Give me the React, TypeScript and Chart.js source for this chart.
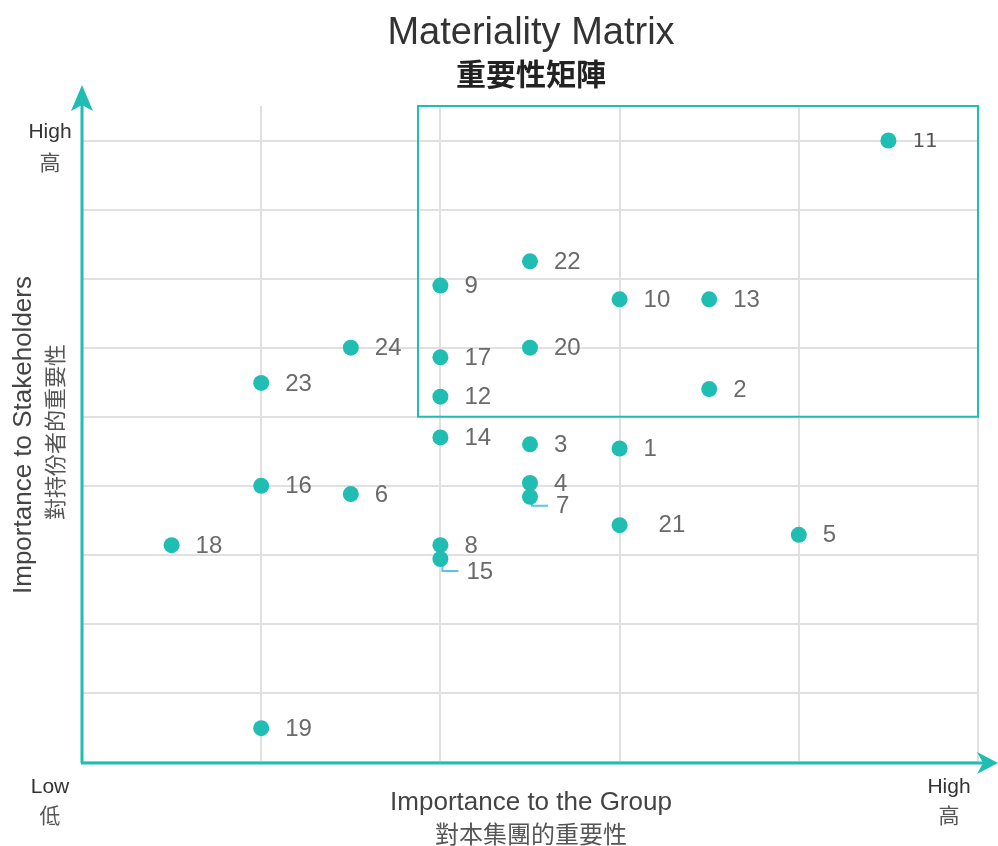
import React, { useEffect, useRef } from "react";
import { Chart, registerables } from "chart.js";

Chart.register(...registerables);

// Topic numbers and their positions (x: importance to the Group, y: importance to stakeholders)
const topicIds = [1, 2, 3, 4, 5, 6, 7, 8, 9, 10, 11, 12, 13, 14, 15, 16, 17, 18, 19, 20, 21, 22, 23, 24];
const groupImportance = [3, 3.5, 2.5, 2.5, 4, 1.5, 2.5, 2, 2, 3, 4.5, 2, 3.5, 2, 2, 1, 2, 0.5, 1, 2.5, 3, 2.5, 1, 1.5];
const stakeholderImportance = [4.54, 5.4, 4.6, 4.04, 3.29, 3.88, 3.84, 3.14, 6.9, 6.7, 9, 5.29, 6.7, 4.7, 2.94, 4.0, 5.86, 3.14, 0.49, 6.0, 3.43, 7.25, 5.49, 6.0];

// Highlighted (material) region
const boxX = [1.875, 5];
const boxY = [5, 9.5];

const xRange = [0, 5];
const yRange = [0, 9.5];

const titleText = "Materiality Matrix";
const subtitleText = "重要性矩陣";
const xTitle = "Importance to the Group";
const xTitleZh = "對本集團的重要性";
const yTitle = "Importance to Stakeholders";
const yTitleZh = "對持份者的重要性";
const highLabel = "High";
const highLabelZh = "高";
const lowLabel = "Low";
const lowLabelZh = "低";

const TEAL = "#20bdb3";
const SANS = "'Liberation Sans', Arial, sans-serif";

// label placement tweaks (style only)
const labelShift: Record<number, [number, number]> = {
  7: [26, 10],
  15: [26, 13],
  21: [39, 0],
  4: [24, 1],
};
const leaderIds = [7, 15];

export default function App() {
  const ref = useRef<HTMLCanvasElement | null>(null);

  useEffect(() => {
    if (!ref.current) return;
    const data = topicIds.map((id, i) => ({ x: groupImportance[i], y: stakeholderImportance[i], id }));

    const decor = {
      id: "decor",
      beforeDatasetsDraw(chart: any) {
        const { ctx, scales } = chart;
        const xs = scales.x, ys = scales.y;
        ctx.save();
        ctx.strokeStyle = TEAL;
        ctx.lineWidth = 2;
        const x0 = xs.getPixelForValue(boxX[0]);
        const x1 = xs.getPixelForValue(boxX[1]);
        const y0 = ys.getPixelForValue(boxY[1]);
        const y1 = ys.getPixelForValue(boxY[0]);
        ctx.strokeRect(x0, y0, x1 - x0, y1 - y0);

        // leader lines
        ctx.strokeStyle = "#5cc3ee";
        ctx.lineWidth = 2;
        chart.getDatasetMeta(0).data.forEach((pt: any, i: number) => {
          const id = topicIds[i];
          if (!leaderIds.includes(id)) return;
          const sh = labelShift[id];
          ctx.beginPath();
          ctx.moveTo(pt.x + 2, pt.y);
          ctx.lineTo(pt.x + 2, pt.y + sh[1] - 1);
          ctx.lineTo(pt.x + sh[0] - 8, pt.y + sh[1] - 1);
          ctx.stroke();
        });
        ctx.restore();
      },
      afterDatasetsDraw(chart: any) {
        const { ctx } = chart;
        ctx.save();
        ctx.textBaseline = "middle";
        ctx.textAlign = "left";
        chart.getDatasetMeta(0).data.forEach((pt: any, i: number) => {
          const id = topicIds[i];
          const sh = labelShift[id] || [24, 1];
          if (id === 11) {
            ctx.font = "20px 'DejaVu Sans', sans-serif";
            ctx.fillStyle = "#555";
          } else {
            ctx.font = `24px ${SANS}`;
            ctx.fillStyle = "#6a6a6a";
          }
          ctx.fillText(String(id), pt.x + sh[0], pt.y + sh[1]);
        });
        ctx.restore();
      },
      afterDraw(chart: any) {
        const { ctx, chartArea } = chart;
        const L = chartArea.left, B = chartArea.bottom;
        ctx.save();
        // axes
        ctx.strokeStyle = TEAL;
        ctx.fillStyle = TEAL;
        ctx.lineWidth = 3;
        ctx.beginPath();
        ctx.moveTo(L, B + 1);
        ctx.lineTo(L, 100);
        ctx.moveTo(L - 1, B + 1);
        ctx.lineTo(988, B + 1);
        ctx.stroke();
        // y arrow
        ctx.beginPath();
        ctx.moveTo(L, 85);
        ctx.lineTo(L + 11, 111);
        ctx.lineTo(L, 105);
        ctx.lineTo(L - 11, 111);
        ctx.closePath();
        ctx.fill();
        // x arrow
        ctx.beginPath();
        ctx.moveTo(998, B + 1);
        ctx.lineTo(977, B + 12);
        ctx.lineTo(983, B + 1);
        ctx.lineTo(977, B - 10);
        ctx.closePath();
        ctx.fill();

        // titles
        ctx.textAlign = "center";
        ctx.textBaseline = "alphabetic";
        ctx.fillStyle = "#333";
        ctx.font = `38px ${SANS}`;
        ctx.fillText(titleText, 531, 44);
        ctx.font = `bold 30px 'Noto Sans CJK TC', sans-serif`;
        ctx.fillStyle = "#222";
        ctx.textBaseline = "middle";
        ctx.fillText(subtitleText, 531, 74);

        // axis titles
        ctx.fillStyle = "#444";
        ctx.font = `26px ${SANS}`;
        ctx.textBaseline = "alphabetic";
        ctx.fillText(xTitle, 531, 810);
        ctx.font = `24px 'Noto Sans CJK TC', sans-serif`;
        ctx.fillStyle = "#555";
        ctx.textBaseline = "middle";
        ctx.fillText(xTitleZh, 531, 834);

        ctx.save();
        ctx.translate(31, 435);
        ctx.rotate(-Math.PI / 2);
        ctx.fillStyle = "#444";
        ctx.font = `26px ${SANS}`;
        ctx.textBaseline = "alphabetic";
        ctx.fillText(yTitle, 0, 0);
        ctx.restore();
        ctx.save();
        ctx.translate(55, 432);
        ctx.rotate(-Math.PI / 2);
        ctx.fillStyle = "#555";
        ctx.font = `22px 'Noto Sans CJK TC', sans-serif`;
        ctx.textBaseline = "middle";
        ctx.fillText(yTitleZh, 0, 0);
        ctx.restore();

        // High / Low markers
        const pair = (t1: string, t2: string, cx: number, y1: number, y2: number) => {
          ctx.fillStyle = "#333";
          ctx.font = `21px ${SANS}`;
          ctx.textBaseline = "alphabetic";
          ctx.fillText(t1, cx, y1);
          ctx.fillStyle = "#555";
          ctx.font = `21px 'Noto Sans CJK TC', sans-serif`;
          ctx.textBaseline = "middle";
          ctx.fillText(t2, cx, y2);
        };
        pair(highLabel, highLabelZh, 50, 138, 162);
        pair(lowLabel, lowLabelZh, 50, 793, 815);
        pair(highLabel, highLabelZh, 949, 793, 815);
        ctx.restore();
      },
    };

    const chart = new Chart(ref.current, {
      type: "scatter",
      data: {
        datasets: [
          {
            data,
            backgroundColor: TEAL,
            borderColor: TEAL,
            pointRadius: 8,
            pointHoverRadius: 8,
            borderWidth: 0,
          },
        ],
      },
      options: {
        responsive: false,
        animation: false,
        layout: { padding: { left: 82, right: 20, top: 106, bottom: 84 } },
        plugins: { legend: { display: false }, tooltip: { enabled: false }, title: { display: false } },
        scales: {
          x: {
            type: "linear",
            min: xRange[0],
            max: xRange[1],
            ticks: { display: false, stepSize: 1 },
            border: { display: false },
            grid: { color: "#e0e0e0", lineWidth: 2, drawTicks: false },
            afterFit: (s: any) => { s.height = 0; },
          },
          y: {
            type: "linear",
            min: yRange[0],
            max: yRange[1],
            ticks: { display: false, stepSize: 1 },
            border: { display: false },
            grid: { color: "#e0e0e0", lineWidth: 2, drawTicks: false },
            afterBuildTicks: (s: any) => { s.ticks = s.ticks.filter((t: any) => t.value <= 9); },
            afterFit: (s: any) => { s.width = 0; },
          },
        },
      },
      plugins: [decor],
    } as any);
    return () => chart.destroy();
  }, []);

  return (
    <div style={{ position: "fixed", left: 0, top: 0, width: 998, height: 846, background: "#fff" }}>
      <canvas ref={ref} width={998} height={846} style={{ display: "block" }} />
    </div>
  );
}
